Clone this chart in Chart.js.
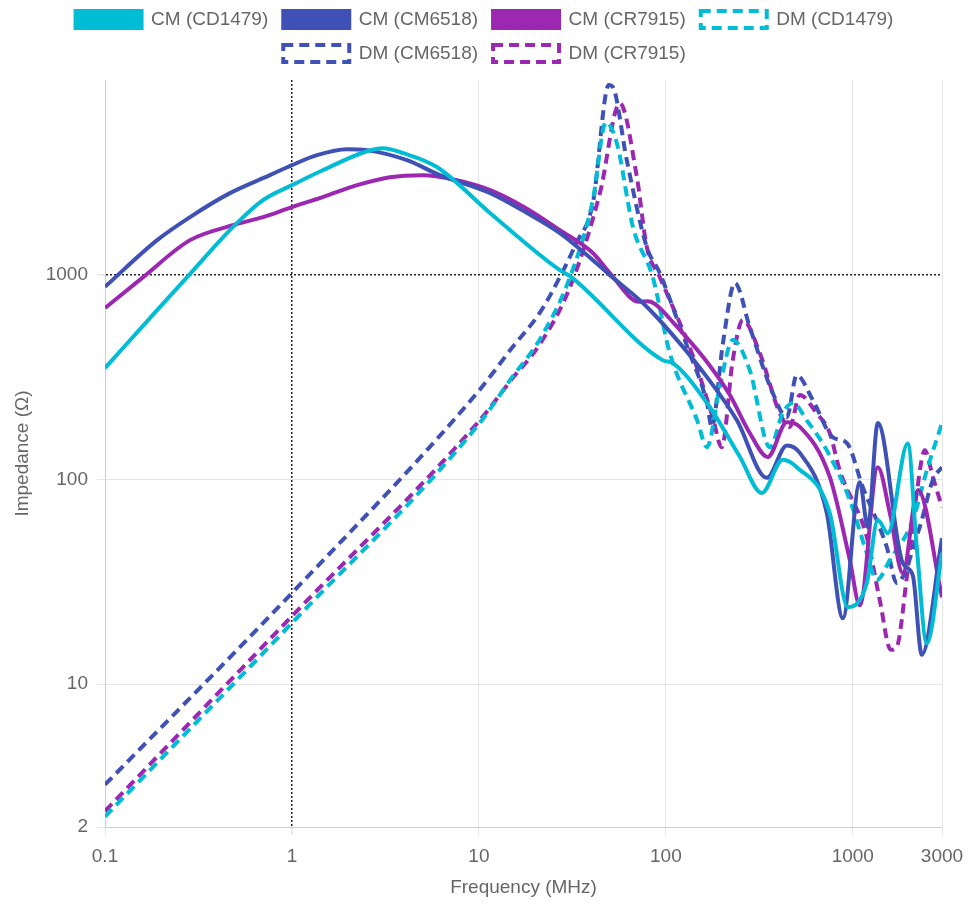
<!DOCTYPE html>
<html>
<head>
<meta charset="utf-8">
<script src="https://cdn.jsdelivr.net/npm/chart.js@4.4.1/dist/chart.umd.min.js"></script>
<style>
  body { margin: 0; background: #fff; }
  #wrap { width: 974px; height: 907px; }
</style>
</head>
<body>
<div id="wrap"><canvas id="myChart"></canvas></div>
<script>
// frequency (MHz) / impedance (ohm) pairs
const cmCD1479F = [0.1, 0.19, 0.275, 0.483, 0.70, 1.0, 1.46, 2.52, 3.07, 3.93, 5.96, 11.5, 27.1, 30.7, 96, 109, 166, 249, 326, 422, 501, 753, 940, 1188, 1361, 1538, 1968, 2198, 2488, 3000];
const cmCD1479Z = [351, 674, 978, 1717, 2328, 2754, 3259, 4035, 4178, 3953, 3377, 2009, 1058, 989, 384, 371, 237, 129, 86, 125, 115, 68.6, 23.8, 31.2, 63.4, 54.7, 150, 46.8, 15.8, 43.7];

const cmCM6518F = [0.1, 0.19, 0.285, 0.466, 0.762, 1.0, 1.36, 1.97, 2.52, 4.12, 6.18, 11.5, 18.1, 27.1, 40.7, 50.2, 75.4, 109, 166, 240, 347, 444, 521, 726, 885, 1090, 1203, 1361, 1850, 2094, 2339, 3000];
const cmCM6518Z = [877, 1483, 1923, 2518, 3083, 3451, 3864, 4132, 4085, 3648, 3083, 2518, 2011, 1604, 1184, 1000, 730, 509, 317, 195, 102, 147, 135, 68.6, 21.0, 97, 58.6, 189, 39, 34, 13.9, 51.7];

const cmCR7915F = [0.1, 0.16, 0.285, 0.483, 0.70, 1.0, 1.46, 2.23, 3.34, 5.02, 7.63, 11.5, 17.5, 27.1, 40.7, 50.2, 72, 80, 88, 109, 166, 220, 281, 351, 444, 521, 753, 964, 1090, 1361, 1578, 1850, 2230, 3000];
const cmCR7915Z = [690, 978, 1483, 1755, 1922, 2152, 2406, 2754, 3013, 3083, 2916, 2606, 2150, 1660, 1282, 1023, 740, 745, 720, 589, 376, 259, 169, 129, 191, 181, 103, 40.4, 24.3, 115, 68.6, 34.9, 89, 26.6];

const dmCD1479F = [0.1, 1, 10, 15, 21.2, 30.7, 40.7, 47.8, 54.7, 66.7, 85.1, 105, 147, 166, 194, 228, 281, 360, 422, 478, 567, 726, 964, 1188, 1343, 1578, 2094, 2488, 3000];
const dmCD1479Z = [2.25, 19.9, 187, 315, 486, 978, 2328, 5600, 4413, 1717, 978, 416, 195, 144, 283, 481, 343, 144, 211, 237, 195, 139, 79.4, 43.7, 32.3, 40.4, 63.4, 111, 189];

const dmCM6518F = [0.1, 1, 10, 15, 21.2, 27.1, 33, 40.7, 49.5, 52.1, 61.8, 79.1, 92.8, 119, 134, 166, 176, 202, 234, 281, 373, 444, 501, 611, 782, 929, 1130, 1520, 1718, 2280, 2680, 3000];
const dmCM6518Z = [3.22, 27.9, 272, 440, 656, 978, 1420, 2249, 8500, 8300, 3648, 1370, 1023, 557, 416, 237, 181, 465, 914, 557, 265, 202, 324, 245, 161, 151, 92, 46.8, 31.2, 58.6, 99.6, 115];

const dmCR7915F = [0.1, 1, 10, 15, 21.2, 30.7, 44.4, 56.7, 70, 79.1, 92.8, 139, 178, 199, 228, 258, 318, 407, 460, 521, 641, 753, 851, 1188, 1393, 1596, 1718, 1945, 2198, 2427, 2680, 3000];
const dmCR7915Z = [2.39, 21.5, 193, 310, 460, 873, 2518, 6930, 3013, 1370, 978, 406, 202, 144, 384, 603, 416, 211, 181, 259, 211, 169, 111, 52.4, 25.8, 14.7, 15.2, 33.4, 86, 139, 103, 73.4];

const xTicks = [0.1, 1, 10, 100, 1000, 3000];
const yTicks = [2, 10, 100, 1000];

const cyan = '#00bcd4';
const indigo = '#3f51b5';
const purple = '#9c27b0';

function toPoints(f, z) {
    let pts = [];
    for (let i = 0; i < f.length; i++) {
        pts.push({ x: f[i], y: z[i] });
    }
    return pts;
}

function series(label, f, z, color, dashed) {
    return {
        label: label,
        data: toPoints(f, z),
        borderColor: color,
        backgroundColor: dashed ? 'rgba(255,255,255,0)' : color,
        borderWidth: 4,
        borderDash: dashed ? [10, 6] : [],
        pointRadius: 0,
        pointHoverRadius: 0,
        cubicInterpolationMode: 'monotone',
        fill: false
    };
}

// nudge the legend so the rows sit where the original has them
// (the original legend is centred on the whole canvas, not the padded area)
const legendNudge = {
    id: 'legendNudge',
    afterLayout(chart) {
        chart.legend.top -= 7;
        chart.legend.bottom -= 7;
        chart.legend.left += 10;
        chart.legend.right += 10;
    }
};

const gridColor = 'rgba(0,0,0,0.1)';
const font = { size: 19 };

const ctx = document.getElementById('myChart');
new Chart(ctx, {
    type: 'line',
    data: {
        datasets: [
            series('CM (CD1479)', cmCD1479F, cmCD1479Z, cyan, false),
            series('CM (CM6518)', cmCM6518F, cmCM6518Z, indigo, false),
            series('CM (CR7915)', cmCR7915F, cmCR7915Z, purple, false),
            series('DM (CD1479)', dmCD1479F, dmCD1479Z, cyan, true),
            series('DM (CM6518)', dmCM6518F, dmCM6518Z, indigo, true),
            series('DM (CR7915)', dmCR7915F, dmCR7915Z, purple, true)
        ]
    },
    plugins: [legendNudge],
    options: {
        responsive: true,
        maintainAspectRatio: false,
        animation: false,
        layout: { padding: { left: 7, right: 32, top: 2, bottom: 0 } },
        plugins: {
            tooltip: { enabled: false },
            legend: {
                position: 'top',
                labels: {
                    boxWidth: 66,
                    boxHeight: 17,
                    padding: 15,
                    color: '#666',
                    font: font
                }
            }
        },
        scales: {
            x: {
                type: 'logarithmic',
                min: 0.1,
                max: 3000,
                afterBuildTicks: axis => { axis.ticks = xTicks.map(v => ({ value: v })); },
                afterFit: axis => { axis.height = 80; },
                ticks: {
                    autoSkip: false,
                    maxRotation: 0,
                    color: '#666',
                    font: font,
                    padding: 10,
                    callback: v => String(v)
                },
                grid: {
                    color: c => (c.tick && c.tick.value === 1) ? '#222' : gridColor,
                    lineWidth: c => (c.tick && c.tick.value === 1) ? 1.5 : 1,
                    tickColor: gridColor
                },
                border: {
                    dash: c => (c.tick && c.tick.value === 1) ? [2, 2] : []
                },
                title: {
                    display: true,
                    text: 'Frequency (MHz)',
                    color: '#666',
                    font: font,
                    padding: { top: 4, bottom: 8 }
                }
            },
            y: {
                type: 'logarithmic',
                min: 2,
                max: 9000,
                afterBuildTicks: axis => { axis.ticks = yTicks.map(v => ({ value: v })); },
                afterFit: axis => { axis.width = 98; },
                ticks: {
                    autoSkip: false,
                    color: '#666',
                    font: font,
                    padding: 9,
                    callback: v => String(v)
                },
                grid: {
                    color: c => (c.tick && c.tick.value === 1000) ? '#222' : gridColor,
                    lineWidth: c => (c.tick && c.tick.value === 1000) ? 1.5 : 1,
                    tickColor: gridColor
                },
                border: {
                    dash: c => (c.tick && c.tick.value === 1000) ? [2, 2] : []
                },
                title: {
                    display: true,
                    text: 'Impedance (Ω)',
                    color: '#666',
                    font: font,
                    padding: { top: 4, bottom: 4 }
                }
            }
        }
    }
});
</script>
</body>
</html>
